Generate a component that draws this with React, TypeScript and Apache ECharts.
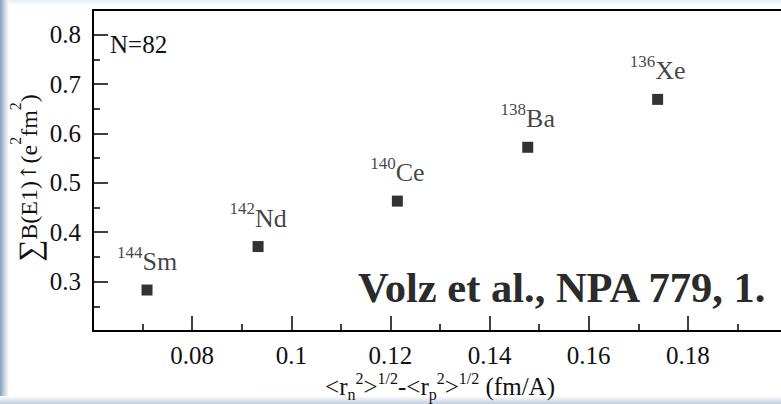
import React, { useEffect, useRef } from "react";
import * as echarts from "echarts";

// ---- data ----
const nuclei = ["Sm", "Nd", "Ce", "Ba", "Xe"];
const massNumbers = ["144", "142", "140", "138", "136"];
const radiusDiff = [0.0709, 0.0933, 0.1214, 0.1477, 0.1739];
const strengthB = [0.283, 0.371, 0.463, 0.572, 0.669];
const annotationText = "N=82";
const referenceText = "Volz et al., NPA 779, 1.";

const SERIF = "Liberation Serif, Times New Roman, serif";

export default function App() {
  const ref = useRef<HTMLDivElement>(null);

  useEffect(() => {
    document.body.style.margin = "0";
    if (!ref.current) return;
    const chart = echarts.init(ref.current, undefined, { renderer: "svg" });

    const points = radiusDiff.map((x, i) => [x, strengthB[i]]);

    chart.setOption({
      animation: false,
      backgroundColor: "#ffffff",
      textStyle: { fontFamily: SERIF },
      grid: {
        left: 93,
        top: 10,
        bottom: 73,
        right: -6,
        show: true,
        borderColor: "#000",
        borderWidth: 2,
        backgroundColor: "transparent",
        containLabel: false,
        outerBoundsMode: "none",
      },
      xAxis: {
        type: "value",
        min: 0.06,
        max: 0.2,
        interval: 0.02,
        splitLine: { show: false },
        axisLine: { show: true, lineStyle: { color: "#000", width: 2 } },
        axisTick: { show: true, inside: true, length: 15, lineStyle: { color: "#000", width: 1.5 } },
        minorTick: { show: true, splitNumber: 2, length: 7, lineStyle: { color: "#000", width: 1.5 } },
        axisLabel: {
          showMinLabel: false,
          showMaxLabel: false,
          margin: 14,
          fontSize: 25,
          lineHeight: 20,
          fontFamily: SERIF,
          color: "#111",
        },
        name:
          "{m|<r}{sub|n}{sup|2}{m|>}{sup|1/2}{m|-<r}{sub|p}{sup|2}{m|>}{sup|1/2}{m| (fm/A)}",
        nameLocation: "middle",
        nameGap: 39,
        nameMoveOverlap: false,
        nameTextStyle: {
          color: "#111",
          fontFamily: SERIF,
          rich: {
            m: { fontSize: 25, lineHeight: 32, verticalAlign: "middle", fontFamily: SERIF, color: "#111" },
            sup: { fontSize: 16, lineHeight: 14, verticalAlign: "top", fontFamily: SERIF, color: "#111" },
            sub: { fontSize: 16, lineHeight: 16, verticalAlign: "bottom", fontFamily: SERIF, color: "#111" },
          },
        },
      },
      yAxis: {
        type: "value",
        min: 0.2,
        max: 0.85,
        interval: 0.1,
        splitLine: { show: false },
        axisLine: { show: true, lineStyle: { color: "#000", width: 2 } },
        axisTick: { show: true, inside: true, length: 15, lineStyle: { color: "#000", width: 1.5 } },
        minorTick: { show: true, splitNumber: 2, length: 7, lineStyle: { color: "#000", width: 1.5 } },
        axisLabel: {
          showMinLabel: false,
          showMaxLabel: false,
          margin: 12,
          fontSize: 25,
          fontFamily: SERIF,
          color: "#111",
        },
        name: "{sum|∑}{m|B(E1)}{arr|↑}{m|(e}{sup|2}{m|fm}{sup|2}{m|)}",
        nameLocation: "middle",
        nameGap: 42,
        nameMoveOverlap: false,
        nameTextStyle: {
          color: "#111",
          fontFamily: SERIF,
          padding: [0, 15, 0, 0],
          rich: {
            sum: { fontSize: 31, lineHeight: 44, verticalAlign: "middle", fontFamily: SERIF, color: "#111" },
            m: { fontSize: 24, lineHeight: 44, verticalAlign: "middle", fontFamily: SERIF, color: "#111" },
            arr: { fontSize: 21, lineHeight: 44, verticalAlign: "middle", fontFamily: "DejaVu Serif, serif", color: "#111" },
            sup: { fontSize: 16, lineHeight: 20, verticalAlign: "top", fontFamily: SERIF, color: "#111" },
          },
        },
      },
      series: [
        {
          type: "scatter",
          data: points,
          symbol: "rect",
          symbolSize: 11,
          itemStyle: { color: "#000" },
          label: {
            show: true,
            position: "top",
            distance: 5,
            formatter: (p: any) => `{sup|${massNumbers[p.dataIndex]}}{el|${nuclei[p.dataIndex]}}`,
            rich: {
              sup: { fontSize: 17, lineHeight: 15, verticalAlign: "top", fontFamily: SERIF, color: "#111" },
              el: { fontSize: 26, lineHeight: 36, verticalAlign: "middle", fontFamily: SERIF, color: "#111" },
            },
          },
        },
      ],
      graphic: [
        {
          type: "rect",
          left: 0,
          top: 0,
          shape: { width: 9, height: 404 },
          style: {
            fill: new echarts.graphic.LinearGradient(0, 0, 1, 0, [
              { offset: 0, color: "#8b9dbb" },
              { offset: 0.5, color: "#c9d3e3" },
              { offset: 1, color: "#ffffff" },
            ]),
          },
          silent: true,
          z: -10,
        },
        {
          type: "rect",
          left: 9,
          top: 0,
          shape: { width: 772, height: 6 },
          style: {
            fill: new echarts.graphic.LinearGradient(0, 0, 0, 1, [
              { offset: 0, color: "#e9eef6" },
              { offset: 1, color: "#ffffff" },
            ]),
          },
          silent: true,
          z: -10,
        },
        {
          type: "rect",
          left: 0,
          top: 396,
          shape: { width: 781, height: 8 },
          style: {
            fill: new echarts.graphic.LinearGradient(0, 0, 0, 1, [
              { offset: 0, color: "#ffffff" },
              { offset: 1, color: "#c3cddd" },
            ]),
          },
          silent: true,
          z: -10,
        },
        {
          type: "text",
          x: 110,
          y: 44,
          style: {
            text: annotationText,
            fontFamily: SERIF,
            fontSize: 25,
            fill: "#111",
            align: "left",
            verticalAlign: "middle",
          },
          z: 10,
        },
        {
          type: "text",
          x: 358,
          y: 287,
          style: {
            text: referenceText,
            fontFamily: SERIF,
            fontSize: 42.5,
            fontWeight: "bold",
            fill: "#2b2b2b",
            align: "left",
            verticalAlign: "middle",
          },
          z: 10,
        },
      ],
    });

    return () => chart.dispose();
  }, []);

  return (
    <div
      ref={ref}
      style={{ position: "fixed", left: 0, top: 0, width: 781, height: 404, overflow: "hidden" }}
    />
  );
}
